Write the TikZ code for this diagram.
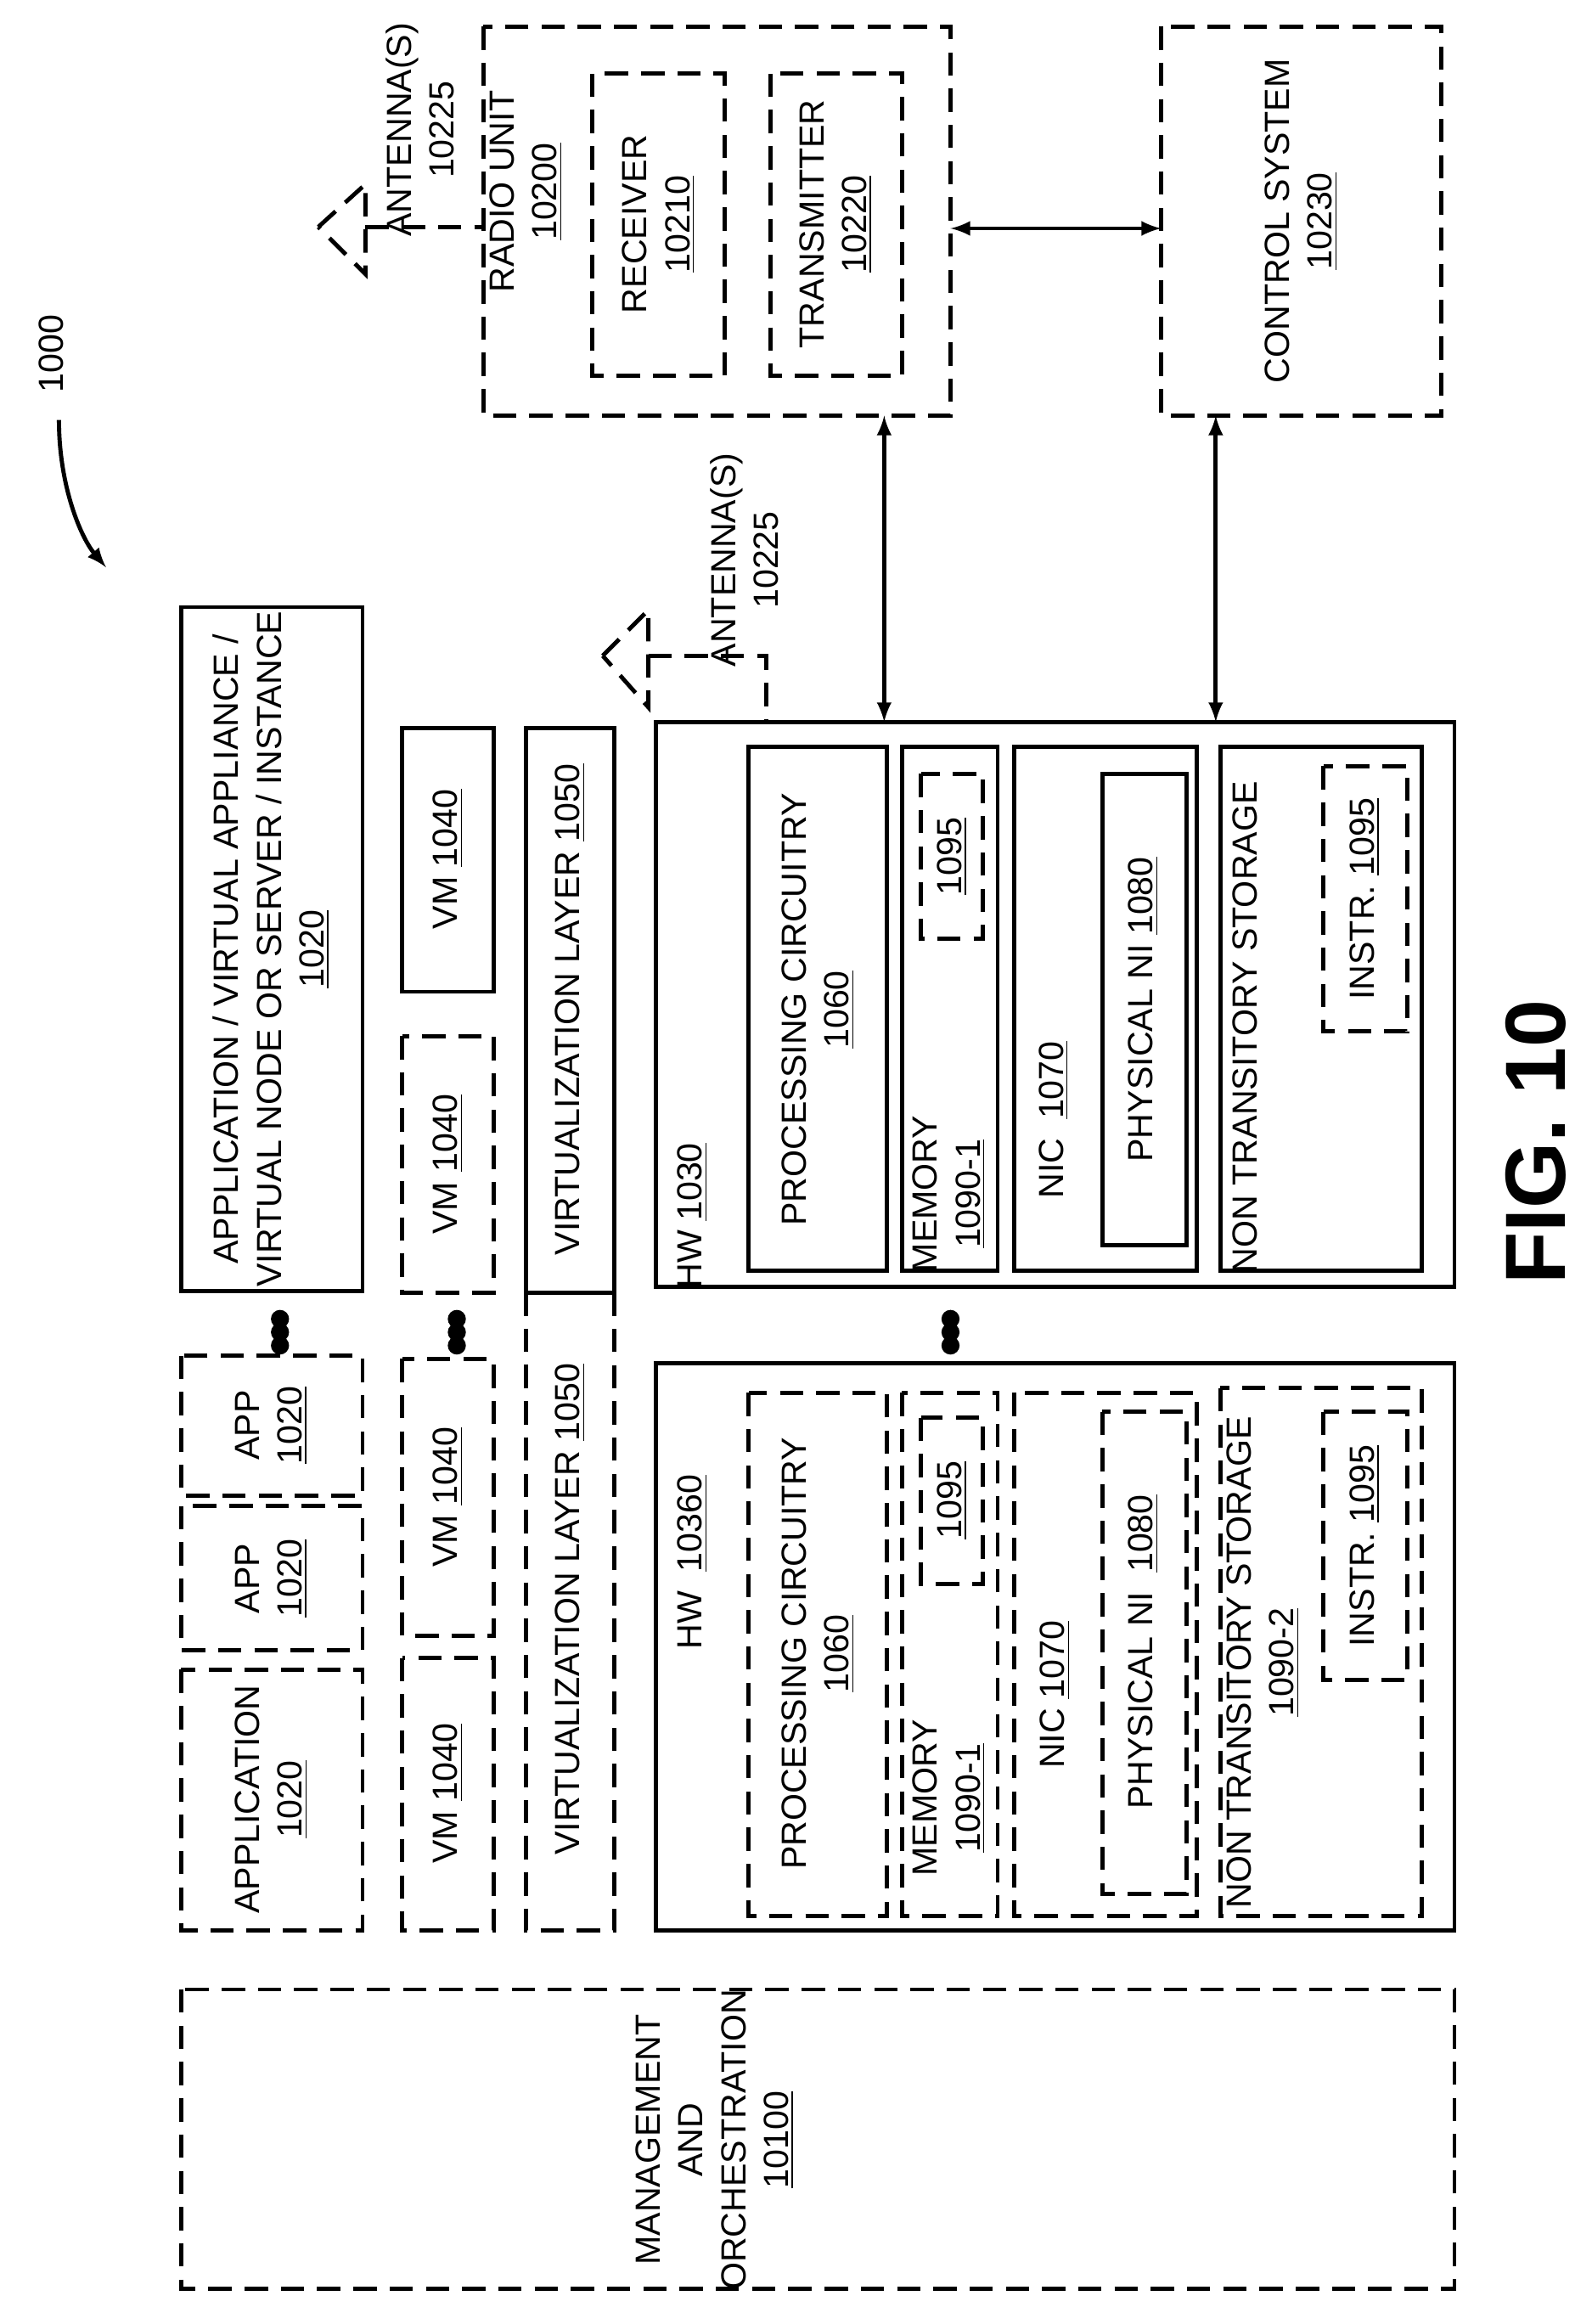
\documentclass[tikz,border=0pt]{standalone}
\usepackage{fontspec}
\setmainfont{Liberation Sans}
\begin{document}
\begin{tikzpicture}[x=0.02cm,y=-0.02cm,
  box/.style={draw,line width=1.6pt},
  dbox/.style={draw,line width=1.6pt,dash pattern=on 9pt off 5pt},
  dl/.style={line width=1.6pt,dash pattern=on 9pt off 5pt},
  t/.style={rotate=90,align=center,font=\fontsize{13.5}{16.5}\selectfont,inner sep=0pt},
  dot/.style={fill=black,circle,inner sep=0pt,minimum size=7pt},
  arr/.style={line width=1.6pt,<->,>=latex}]
\useasboundingbox (0,0) rectangle (1080,1577);
% top
\draw[dbox] (328,18) rectangle (645,282);
\coordinate (ruL) at (328,154); \coordinate (ruB) at (600,282); \coordinate (ruR) at (645,155);
\node[t] (rut) at (357,130) {RADIO UNIT\\\underline{10200}};
\draw[dbox] (402,50) rectangle (492,255);
\node[t] (rx) at (447,152) {RECEIVER\\\underline{10210}};
\draw[dbox] (523,50) rectangle (612,255);
\node[t] (tx) at (567,152) {TRANSMITTER\\\underline{10220}};
\draw[dbox] (788,18) rectangle (978,282);
\coordinate (csL) at (788,155); \coordinate (csB) at (825,282);
\node[t] (cs) at (883,150) {CONTROL SYSTEM\\\underline{10230}};
\draw[arr] (ruR) -- (csL);
% top antenna
\coordinate (a1) at (248,154);
\draw[dl] (216,154) -- (248,125) -- (248,186) -- cycle;
\draw[dl] (a1) -- (ruL);
\node[t] (a1t) at (285,88) {ANTENNA(S)\\10225};
% 1000
\node[t] (n1000) at (35,240) {1000};
\draw[line width=1.6pt,->,>=latex] (40,285) .. controls (40,330) and (55,365) .. (72,385);
% applications
\draw[box] (123,412) rectangle (246,876);
\node[t] (app0) at (184,644) {APPLICATION / VIRTUAL APPLIANCE /\\VIRTUAL NODE OR SERVER / INSTANCE\\\underline{1020}};
\foreach \yy in {895,904,913} \node[dot] at (190,\yy) {};
\draw[dbox] (123,920) rectangle (246,1015);
\node[t] at (184,967) {APP\\\underline{1020}};
\draw[dbox] (123,1022) rectangle (246,1120);
\node[t] at (184,1071) {APP\\\underline{1020}};
\draw[dbox] (123,1133) rectangle (246,1310);
\node[t] at (184,1221) {APPLICATION\\\underline{1020}};
% VMs
\draw[box] (273,494) rectangle (335,673);
\node[t] at (304,583) {VM \underline{1040}};
\draw[dbox] (273,703) rectangle (335,877);
\node[t] at (304,790) {VM \underline{1040}};
\foreach \yy in {895,904,913} \node[dot] at (310,\yy) {};
\draw[dbox] (273,922) rectangle (335,1110);
\node[t] at (304,1016) {VM \underline{1040}};
\draw[dbox] (273,1125) rectangle (335,1310);
\node[t] at (304,1217) {VM \underline{1040}};
% virtualization
\draw[box] (357,494) rectangle (417,877);
\node[t] at (387,685) {VIRTUALIZATION LAYER \underline{1050}};
\draw[dl] (357,877) -- (357,1310) -- (417,1310) -- (417,877);
\node[t] at (387,1092) {VIRTUALIZATION LAYER \underline{1050}};
% middle antenna
\draw[dl] (409,445) -- (440,414) -- (440,480) -- cycle;
\draw[dl] (440,445) -- (520,445) -- (520,490);
\node[t] at (505,380) {ANTENNA(S)\\10225};
% HW 1030
\draw[box] (445,490) rectangle (987,873);
\node[t] at (470,825) {HW \underline{1030}};
\draw[box] (508,507) rectangle (602,862);
\node[t] at (555,685) {PROCESSING CIRCUITRY\\\underline{1060}};
\draw[box] (612,507) rectangle (677,862);
\node[t] at (644,810) {MEMORY\\\underline{1090-1}};
\draw[dbox] (625,525) rectangle (667,637);
\node[t] at (646,581) {\underline{1095}};
\draw[box] (688,507) rectangle (812,862);
\node[t] at (715,760) {NIC \ \underline{1070}};
\draw[box] (748,525) rectangle (805,845);
\node[t] at (776,685) {PHYSICAL NI \underline{1080}};
\draw[box] (828,507) rectangle (965,862);
\node[t] at (845,697) {NON TRANSITORY STORAGE};
\draw[dbox] (898,520) rectangle (955,700);
\node[t] at (926,610) {INSTR. \underline{1095}};
\draw[arr] (ruB) -- (600,490);
\draw[arr] (csB) -- (825,490);
\foreach \yy in {895,904,913} \node[dot] at (645,\yy) {};
% HW 10360
\draw[box] (445,925) rectangle (987,1310);
\node[t] at (470,1060) {HW \ \underline{10360}};
\draw[dbox] (508,945) rectangle (602,1300);
\node[t] at (555,1122) {PROCESSING CIRCUITRY\\\underline{1060}};
\draw[dbox] (612,945) rectangle (677,1300);
\node[t] at (644,1220) {MEMORY\\\underline{1090-1}};
\draw[dbox] (625,962) rectangle (667,1075);
\node[t] at (646,1018) {\underline{1095}};
\draw[dbox] (688,945) rectangle (812,1300);
\node[t] at (716,1150) {NIC \underline{1070}};
\draw[dbox] (748,958) rectangle (805,1285);
\node[t] at (776,1121) {PHYSICAL NI \ \underline{1080}};
\draw[dbox] (828,942) rectangle (965,1300);
\node[t] at (857,1128) {NON TRANSITORY STORAGE\\\underline{1090-2}};
\draw[dbox] (898,958) rectangle (955,1140);
\node[t] at (926,1049) {INSTR. \underline{1095}};
% MANO
\draw[dbox] (123,1350) rectangle (987,1553);
\node[t] at (485,1452) {MANAGEMENT\\AND\\ORCHESTRATION\\\underline{10100}};
% fig
\node[t,font=\fontsize{33}{33}\selectfont\bfseries] at (1042,775) {FIG. 10};
\end{tikzpicture}
\end{document}
